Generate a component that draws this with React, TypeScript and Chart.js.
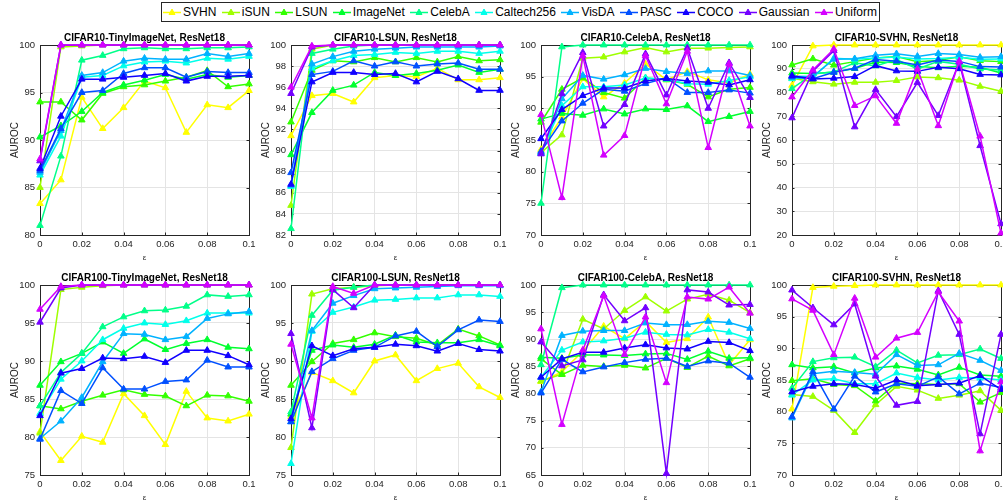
import React, { useEffect, useRef } from "react";
import { Chart, registerables } from "chart.js";

Chart.register(...registerables);

// ---------- data ----------
const epsilons = [0, 0.01, 0.02, 0.03, 0.04, 0.05, 0.06, 0.07, 0.08, 0.09, 0.1];

const seriesNames = ["SVHN", "iSUN", "LSUN", "ImageNet", "CelebA", "Caltech256", "VisDA", "PASC", "COCO", "Gaussian", "Uniform"];

const xTickValues = [0, 0.02, 0.04, 0.06, 0.08, 0.1];

// rows: SVHN, iSUN, LSUN, ImageNet, CelebA, Caltech256, VisDA, PASC, COCO, Gaussian, Uniform
const c10TinyImageNet = [
  [83.3, 85.8, 94.5, 91.2, 93.4, 96.2, 95.5, 90.8, 93.7, 93.4, 95.2],
  [85.0, 99.8, 99.9, 100, 100, 100, 100, 100, 100, 100, 100],
  [94.0, 94.0, 92.1, 94.9, 95.6, 95.8, 96.2, 96.6, 97.3, 95.6, 95.9],
  [90.3, 91.5, 93.0, 95.0, 95.8, 96.3, 96.9, 96.4, 96.9, 96.6, 96.8],
  [81.0, 88.3, 98.4, 98.9, 99.6, 99.7, 99.6, 99.6, 99.7, 99.7, 99.8],
  [86.3, 90.4, 96.6, 96.8, 97.8, 98.2, 98.3, 98.1, 98.6, 98.5, 98.8],
  [86.6, 91.0, 96.8, 97.1, 98.3, 98.6, 98.5, 98.5, 99.1, 98.8, 99.1],
  [86.8, 91.2, 95.0, 95.2, 97.0, 97.6, 97.6, 96.6, 97.2, 97.1, 97.1],
  [87.0, 92.5, 96.4, 96.4, 96.6, 96.8, 97.0, 96.2, 96.7, 96.7, 96.8],
  [87.8, 100, 100, 100, 100, 100, 100, 100, 100, 100, 100],
  [88.0, 100, 100, 100, 100, 100, 100, 100, 100, 100, 100],
];

const c10Lsun = [
  [91.4, 95.2, 95.4, 94.6, 96.9, 97.1, 97.0, 97.8, 96.7, 96.7, 96.9],
  [84.8, 99.6, 100, 100, 100, 100, 100, 100, 100, 100, 100],
  [92.7, 97.6, 98.5, 98.4, 98.8, 98.4, 98.8, 98.4, 98.9, 98.5, 98.6],
  [89.6, 93.6, 95.7, 96.2, 97.4, 97.1, 97.3, 97.6, 98.1, 97.4, 97.7],
  [82.6, 99.2, 99.6, 99.9, 100, 100, 100, 100, 100, 100, 100],
  [86.6, 97.8, 98.5, 99.0, 99.1, 99.3, 99.2, 99.4, 99.4, 99.2, 99.4],
  [86.7, 98.2, 98.9, 99.4, 99.6, 99.7, 99.8, 99.8, 99.8, 99.8, 99.9],
  [87.9, 97.2, 97.5, 98.5, 98.0, 98.4, 98.0, 98.2, 98.3, 97.7, 97.7],
  [86.8, 96.5, 97.4, 97.4, 97.2, 97.3, 96.5, 97.5, 96.8, 95.7, 95.7],
  [95.4, 99.8, 100, 100, 100, 100, 100, 100, 100, 100, 100],
  [96.0, 99.9, 100, 100, 100, 100, 100, 100, 100, 100, 100],
];

const c10CelebA = [
  [83.5, 88.6, 94.7, 91.8, 94.0, 97.0, 94.5, 95.8, 94.5, 94.0, 95.4],
  [83.0, 85.8, 97.9, 98.1, 98.9, 99.6, 98.9, 99.5, 99.5, 99.6, 99.7],
  [87.8, 93.0, 94.8, 92.5, 91.6, 94.8, 94.5, 93.8, 91.8, 93.0, 93.3],
  [88.3, 89.2, 88.9, 89.9, 89.1, 89.9, 89.8, 90.4, 87.9, 88.7, 89.5],
  [75.0, 99.7, 100, 100, 100, 100, 100, 100, 100, 100, 100],
  [83.0, 90.4, 93.4, 93.4, 93.7, 94.8, 94.6, 93.9, 93.8, 94.4, 95.0],
  [82.9, 91.5, 95.2, 94.6, 95.3, 96.3, 95.8, 95.5, 95.9, 95.9, 95.2],
  [83.2, 88.0, 90.8, 93.0, 92.7, 93.9, 94.8, 92.5, 92.5, 92.9, 92.4],
  [85.2, 89.8, 92.0, 93.2, 93.2, 94.3, 94.7, 94.3, 94.1, 93.7, 94.5],
  [82.8, 92.3, 98.8, 87.2, 90.6, 98.6, 92.1, 99.5, 90.0, 97.2, 91.7],
  [89.0, 75.9, 98.3, 82.6, 85.7, 98.3, 90.7, 99.0, 83.8, 97.0, 87.2],
];

const c10Svhn = [
  [83.0, 99.6, 100, 100, 100, 100, 100, 100, 100, 100, 100],
  [86.0, 84.5, 83.5, 84.3, 84.3, 85.0, 86.5, 86.2, 85.2, 82.6, 80.5],
  [91.6, 94.2, 91.5, 93.0, 94.5, 95.2, 93.0, 93.5, 95.0, 93.4, 93.0],
  [88.2, 88.0, 88.5, 90.1, 92.8, 92.6, 91.0, 90.4, 91.0, 90.6, 88.2],
  [81.6, 87.8, 88.7, 92.5, 91.2, 93.9, 89.9, 93.1, 91.9, 89.9, 89.5],
  [85.8, 86.4, 94.4, 94.0, 94.5, 94.9, 94.1, 94.3, 94.8, 94.0, 94.1],
  [86.8, 86.7, 94.0, 94.2, 95.7, 96.3, 95.2, 96.4, 96.0, 94.8, 95.1],
  [86.5, 85.8, 88.5, 90.2, 93.9, 93.2, 91.6, 93.7, 93.1, 90.9, 90.7],
  [87.1, 85.7, 86.0, 86.7, 91.3, 89.1, 88.9, 90.6, 90.0, 87.6, 87.4],
  [69.3, 89.0, 97.6, 65.5, 81.2, 69.8, 84.2, 70.3, 92.8, 57.6, 24.7],
  [78.1, 89.5, 98.3, 74.5, 78.6, 67.0, 89.9, 66.0, 93.2, 61.6, 20.8],
];

const c100TinyImageNet = [
  [80.7, 76.9, 80.1, 79.3, 85.7, 82.8, 79.0, 86.0, 82.5, 82.1, 83.0],
  [80.5, 99.4, 99.7, 99.9, 100, 100, 100, 100, 100, 100, 100],
  [84.1, 83.7, 84.7, 85.5, 86.2, 85.6, 85.4, 84.1, 85.5, 85.4, 84.7],
  [86.8, 89.9, 91.0, 92.5, 91.0, 92.9, 91.5, 92.3, 92.8, 91.8, 91.6],
  [84.1, 88.5, 91.0, 94.5, 95.8, 96.6, 96.7, 97.2, 98.7, 98.5, 98.7],
  [83.1, 87.6, 90.0, 92.8, 94.3, 95.0, 94.8, 95.3, 96.3, 96.3, 96.3],
  [79.8, 82.1, 85.2, 89.9, 93.6, 93.5, 92.8, 93.2, 95.6, 96.2, 96.5],
  [79.7, 86.1, 84.4, 89.1, 86.3, 86.3, 87.3, 87.5, 90.1, 89.2, 89.2],
  [82.8, 88.4, 89.0, 90.4, 90.3, 90.6, 89.8, 91.4, 91.4, 90.7, 89.5],
  [95.1, 99.6, 100, 100, 100, 100, 100, 100, 100, 100, 100],
  [96.8, 99.8, 100, 100, 100, 100, 100, 100, 100, 100, 100],
];

const c100Lsun = [
  [82.7, 88.5, 87.4, 85.8, 90.0, 90.8, 87.4, 89.0, 89.7, 86.6, 85.2],
  [78.6, 98.8, 99.5, 99.7, 99.9, 100, 100, 100, 100, 100, 100],
  [86.8, 89.9, 92.3, 92.8, 93.7, 93.2, 93.0, 92.1, 94.2, 93.3, 92.1],
  [83.0, 91.4, 92.1, 91.8, 92.2, 93.4, 92.5, 92.4, 92.4, 92.8, 92.0],
  [83.3, 96.0, 99.3, 99.7, 100, 100, 100, 100, 100, 100, 100],
  [76.5, 93.9, 96.4, 97.1, 98.0, 98.1, 98.3, 98.3, 98.7, 98.7, 98.5],
  [82.0, 94.0, 97.6, 98.6, 99.5, 99.6, 99.7, 99.8, 99.9, 99.9, 99.9],
  [82.0, 88.6, 90.3, 91.4, 91.8, 93.3, 93.9, 91.9, 94.1, 95.4, 95.2],
  [82.4, 92.0, 90.7, 91.6, 91.8, 92.2, 92.0, 91.3, 92.3, 91.5, 91.3],
  [93.6, 81.2, 99.4, 97.0, 100, 100, 100, 100, 100, 100, 100],
  [92.2, 82.5, 99.8, 98.9, 100, 100, 100, 100, 100, 100, 100],
];

const c100CelebA = [
  [82.2, 84.0, 87.8, 92.4, 90.1, 93.3, 89.4, 90.1, 94.1, 85.3, 89.9],
  [82.3, 83.6, 93.7, 91.9, 95.3, 97.8, 95.2, 97.4, 98.3, 97.2, 94.9],
  [86.4, 83.5, 85.2, 85.0, 85.2, 84.7, 86.5, 84.8, 86.9, 85.1, 86.4],
  [86.7, 86.5, 87.1, 87.1, 87.0, 87.3, 87.4, 86.3, 87.8, 86.5, 86.6],
  [85.3, 99.5, 100, 100, 100, 100, 100, 100, 100, 100, 100],
  [83.0, 88.0, 89.5, 89.7, 90.2, 91.3, 90.9, 90.8, 91.8, 91.3, 90.1],
  [80.3, 90.7, 91.5, 91.6, 91.6, 93.0, 92.7, 92.7, 93.3, 93.1, 92.0],
  [80.1, 86.3, 84.0, 84.9, 85.7, 86.3, 86.5, 85.0, 86.0, 85.6, 83.0],
  [83.0, 86.4, 87.6, 87.6, 88.4, 89.0, 88.4, 88.2, 89.6, 89.4, 87.9],
  [89.5, 85.1, 86.2, 98.2, 93.4, 95.8, 65.3, 99.1, 98.7, 96.3, 96.4],
  [91.9, 74.3, 88.0, 98.0, 87.2, 94.1, 82.0, 97.8, 97.4, 99.6, 94.8],
];

const c100Svhn = [
  [80.4, 99.6, 99.8, 99.9, 100, 100, 100, 100, 100, 100, 100],
  [82.7, 82.4, 80.2, 76.7, 81.1, 84.0, 83.4, 82.1, 82.6, 83.3, 80.2],
  [84.9, 85.2, 84.3, 84.1, 81.7, 84.5, 84.4, 84.3, 84.4, 81.5, 83.0],
  [87.4, 86.9, 87.1, 86.1, 86.9, 87.2, 86.7, 85.8, 87.0, 85.8, 85.6],
  [83.7, 87.9, 88.5, 88.6, 87.1, 89.7, 87.7, 88.9, 89.0, 89.9, 88.4],
  [82.6, 85.0, 85.2, 84.4, 84.4, 86.1, 85.4, 85.0, 85.4, 85.3, 85.0],
  [79.0, 86.0, 86.4, 86.2, 85.9, 89.0, 87.3, 87.4, 89.2, 88.1, 86.5],
  [79.2, 86.3, 80.4, 85.6, 83.1, 84.4, 84.0, 85.5, 82.8, 84.5, 83.8],
  [83.1, 84.0, 84.4, 84.3, 83.7, 85.0, 84.1, 84.3, 84.5, 85.7, 83.5],
  [99.2, 96.4, 93.7, 97.0, 85.6, 81.0, 81.6, 99.1, 92.2, 76.5, 92.2],
  [97.8, 96.0, 89.0, 97.9, 88.6, 91.6, 92.5, 98.9, 94.3, 73.8, 84.7],
];

const panelTitles = [
  "CIFAR10-TinyImageNet, ResNet18",
  "CIFAR10-LSUN, ResNet18",
  "CIFAR10-CelebA, ResNet18",
  "CIFAR10-SVHN, ResNet18",
  "CIFAR100-TinyImageNet, ResNet18",
  "CIFAR100-LSUN, ResNet18",
  "CIFAR100-CelebA, ResNet18",
  "CIFAR100-SVHN, ResNet18",
];
const panelData = [c10TinyImageNet, c10Lsun, c10CelebA, c10Svhn, c100TinyImageNet, c100Lsun, c100CelebA, c100Svhn];
const panelYMin = [80, 82, 70, 20, 75, 75, 65, 70];
const panelYStep = [5, 2, 5, 10, 5, 5, 5, 5];
const yMax = 100;

// ---------- styles ----------
const seriesColors = [
  "#FFFF00", "#9EFF00", "#33FF00", "#00FF2F", "#00FF89", "#00FFEA",
  "#00B2FF", "#0050FF", "#1100FF", "#7300FF", "#D400FF",
];
const FONT = "'Liberation Sans', Arial, Helvetica, sans-serif";
const AXIS = "#262626";
const GRID = "#e4e4e4";

const colLeft = [40, 291, 541, 792];
const rowTop = [45, 285];
const PLOT_W = 209;
const PLOT_H = 190;
const Y_AXIS_W = 40;
const TITLE_H = 25;
const X_AXIS_H = 30;
const PAD_R = 12;

const fmtX = (v: number) => {
  const r = Math.round(v * 100) / 100;
  return r === 0 ? "0" : String(r);
};

const boxPlugin = {
  id: "matlabBox",
  beforeDatasetsDraw(chart: any) {
    const { ctx, chartArea, scales } = chart;
    const { left, right, top, bottom } = chartArea;
    ctx.save();
    ctx.strokeStyle = AXIS;
    ctx.lineWidth = 1;
    const tl = 2.5;
    ctx.beginPath();
    scales.y.ticks.forEach((t: any) => {
      const y = Math.round(scales.y.getPixelForValue(t.value)) + 0.5;
      ctx.moveTo(left, y);
      ctx.lineTo(left + tl, y);
      ctx.moveTo(right, y);
      ctx.lineTo(right - tl, y);
    });
    scales.x.ticks.forEach((t: any) => {
      const x = Math.round(scales.x.getPixelForValue(t.value)) + 0.5;
      ctx.moveTo(x, bottom);
      ctx.lineTo(x, bottom - tl);
      ctx.moveTo(x, top);
      ctx.lineTo(x, top + tl);
    });
    ctx.stroke();
    ctx.strokeRect(Math.round(left) + 0.5, Math.round(top) + 0.5, Math.round(right - left), Math.round(bottom - top));
    ctx.restore();
  },
};

function Panel({ index }: { index: number }) {
  const ref = useRef<HTMLCanvasElement | null>(null);
  const col = index % 4;
  const row = Math.floor(index / 4);
  const width = Y_AXIS_W + PLOT_W + PAD_R;
  const height = TITLE_H + PLOT_H + X_AXIS_H;

  useEffect(() => {
    if (!ref.current) return;
    const data = panelData[index];
    const datasets = data.map((vals, i) => ({
      label: seriesNames[i],
      data: epsilons.map((e, j) => ({ x: e, y: vals[j] })),
      borderColor: seriesColors[i],
      backgroundColor: seriesColors[i],
      borderWidth: 1.5,
      pointStyle: "triangle" as const,
      pointRadius: 3.8,
      pointBorderWidth: 1,
      pointBackgroundColor: seriesColors[i],
      pointBorderColor: seriesColors[i],
      tension: 0,
      clip: false as const,
      order: seriesNames.length - 1 - i,
    }));
    const chart = new Chart(ref.current, {
      type: "line",
      data: { datasets },
      plugins: [boxPlugin],
      options: {
        responsive: false,
        animation: false,
        events: [],
        devicePixelRatio: 1,
        layout: { padding: { left: 0, right: PAD_R, top: 0, bottom: 0 } },
        plugins: {
          legend: { display: false },
          tooltip: { enabled: false },
          title: {
            display: true,
            fullSize: false,
            text: panelTitles[index],
            color: "#000",
            font: { family: FONT, size: 10, weight: "bold" },
            padding: { top: 12, bottom: 1 },
          },
        },
        scales: {
          x: {
            type: "linear",
            min: 0,
            max: 0.1,
            afterBuildTicks: (scale: any) => {
              scale.ticks = xTickValues.map((v) => ({ value: v }));
            },
            afterFit: (scale: any) => {
              scale.height = X_AXIS_H;
            },
            ticks: {
              padding: 4,
              color: AXIS,
              font: { family: FONT, size: 9.5 },
              maxRotation: 0,
              autoSkip: false,
              callback: (v: any) => fmtX(Number(v)),
            },
            grid: { color: GRID, drawTicks: false },
            border: { color: AXIS, width: 1 },
            title: {
              display: true,
              text: "ε",
              color: AXIS,
              font: { family: FONT, size: 8 },
              padding: { top: 0, bottom: 2 },
            },
          },
          y: {
            type: "linear",
            min: panelYMin[index],
            max: yMax,
            afterFit: (scale: any) => {
              scale.width = Y_AXIS_W;
            },
            ticks: {
              stepSize: panelYStep[index],
              padding: 5,
              color: AXIS,
              font: { family: FONT, size: 9.5 },
            },
            grid: { color: GRID, drawTicks: false },
            border: { color: AXIS, width: 1 },
            title: {
              display: true,
              text: "AUROC",
              color: AXIS,
              font: { family: FONT, size: 10 },
              padding: { top: 9, bottom: 0 },
            },
          },
        },
      } as any,
    });
    return () => chart.destroy();
  }, [index]);

  return (
    <canvas
      ref={ref}
      width={width}
      height={height}
      style={{
        position: "absolute",
        left: colLeft[col] - Y_AXIS_W,
        top: rowTop[row] - TITLE_H,
        width,
        height,
      }}
    />
  );
}

function Legend() {
  return (
    <div
      style={{
        position: "absolute",
        left: 161,
        top: 2,
        width: 719,
        height: 20,
        boxSizing: "border-box",
        border: `1px solid ${AXIS}`,
        background: "#fff",
        display: "flex",
        alignItems: "center",
        justifyContent: "space-between",
        padding: "0 2px 0 1px",
        fontFamily: FONT,
        fontSize: 12,
        color: "#000",
        zIndex: 5,
      }}
    >
      {seriesNames.map((name, i) => (
        <span key={name} style={{ display: "flex", alignItems: "center", whiteSpace: "nowrap" }}>
          <svg width={18} height={10} style={{ display: "block" }}>
            <line x1={0} y1={5.5} x2={18} y2={5.5} stroke={seriesColors[i]} strokeWidth={1.5} />
            <polygon points="9,2 12,7.5 6,7.5" fill={seriesColors[i]} stroke={seriesColors[i]} strokeWidth={1} />
          </svg>
          <span style={{ marginLeft: 2, lineHeight: "14px" }}>{name}</span>
        </span>
      ))}
    </div>
  );
}

export default function App() {
  return (
    <div
      style={{
        position: "fixed",
        left: 0,
        top: 0,
        width: 1003,
        height: 501,
        overflow: "hidden",
        background: "#fff",
      }}
    >
      {panelTitles.map((_, i) => (
        <Panel key={i} index={i} />
      ))}
      <Legend />
    </div>
  );
}
